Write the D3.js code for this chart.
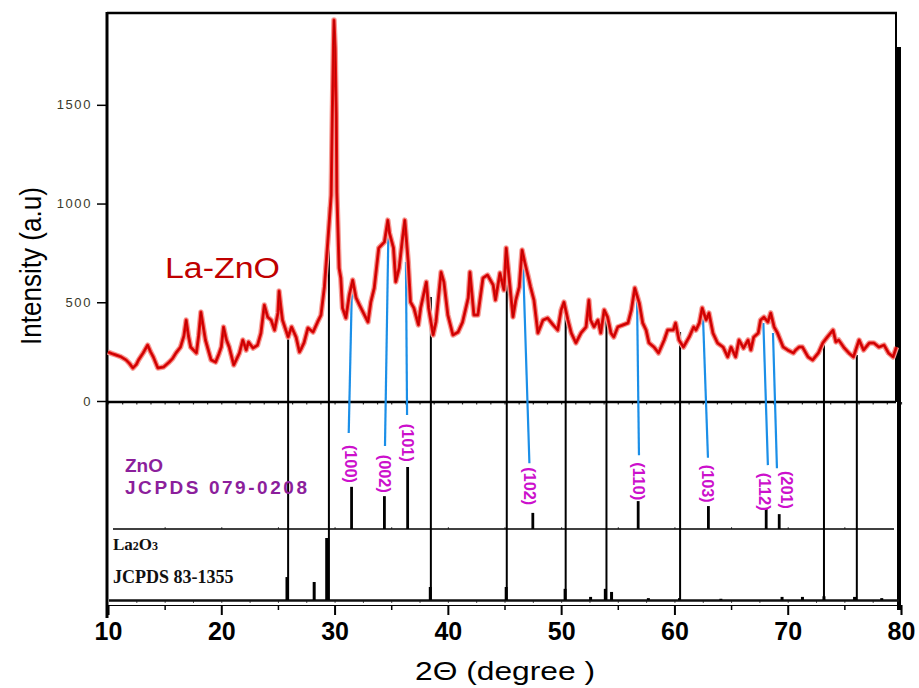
<!DOCTYPE html>
<html><head><meta charset="utf-8">
<script src="https://cdn.jsdelivr.net/npm/d3@7/dist/d3.min.js"></script>
<style>body{margin:0;background:#fff} svg{display:block}</style>
</head><body><svg id="c" width="919" height="688"></svg>
<script>
// ---- data ----
const twoTheta = [10.0,10.35,10.7,11.1,11.6,11.9,12.2,12.5,12.7,13.1,13.5,13.75,14.0,14.4,14.9,15.4,15.7,16.0,16.4,16.7,16.9,17.1,17.3,17.8,18.0,18.2,18.4,18.6,19.1,19.5,19.8,20.0,20.2,20.45,20.7,21.1,21.6,21.9,22.2,22.4,22.8,23.2,23.5,23.8,24.1,24.4,24.7,25.0,25.1,25.25,25.4,25.9,26.2,26.6,26.9,27.1,27.3,27.65,28.1,28.5,28.8,29.1,29.4,29.7,29.8,29.9,29.95,30.05,30.15,30.2,30.4,30.55,30.7,31.0,31.3,31.6,31.9,32.2,32.5,32.95,33.2,33.5,33.9,34.4,34.7,34.85,35.2,35.4,35.7,36.0,36.2,36.5,36.7,37.0,37.4,37.6,38.1,38.3,38.7,38.95,39.4,39.65,40.0,40.45,40.9,41.3,41.8,41.95,42.3,42.65,43.1,43.5,44.0,44.2,44.6,44.95,45.15,45.4,45.75,46.0,46.3,46.55,46.8,47.1,47.3,47.6,47.95,48.4,48.8,49.3,49.7,50.0,50.25,50.6,50.9,51.3,51.75,52.2,52.45,52.6,52.9,53.25,53.5,53.8,54.1,54.4,54.65,55.0,55.45,55.9,56.2,56.5,56.9,57.2,57.5,57.75,58.2,58.6,59.1,59.4,59.9,60.1,60.4,60.8,61.3,61.7,61.9,62.2,62.45,62.8,63.05,63.4,63.8,64.3,64.7,65.0,65.4,65.7,66.1,66.5,66.75,67.0,67.4,67.6,67.9,68.25,68.5,68.8,69.1,69.6,70.0,70.5,70.7,71.0,71.3,71.8,72.2,72.7,73.1,73.5,74.0,74.25,74.5,75.0,75.4,75.8,76.3,76.7,77.2,77.6,78.05,78.5,78.9,79.3,79.6];
const intensity = [248,240,233,225,208,190,167,185,208,243,283,250,223,167,172,197,215,243,273,330,410,330,273,243,330,451,380,309,208,197,240,273,375,310,273,182,243,309,258,299,268,283,344,486,425,410,359,446,557,480,410,324,375,324,248,270,294,370,349,400,435,577,805,1043,1448,1800,1929,1787,1448,1058,673,623,471,420,537,613,522,486,451,400,501,572,775,805,916,850,775,603,673,825,916,704,501,471,385,471,603,471,334,400,653,603,435,334,349,400,522,653,435,435,623,638,587,511,648,562,775,628,425,511,577,765,700,628,577,511,344,410,420,385,359,461,501,410,344,294,344,375,511,410,375,410,344,461,425,344,324,375,385,395,461,572,496,395,359,294,273,243,309,359,359,395,309,273,324,375,359,395,471,410,446,344,294,273,223,273,223,309,268,309,258,324,344,410,425,400,446,375,344,273,258,243,258,273,273,223,208,243,294,324,359,299,309,268,243,223,309,258,294,294,273,283,243,223,273];

const xTickValues = [10,20,30,40,50,60,70,80];
const yTickValues = [0,500,1000,1500];

// La2O3 reference lines reaching up into the pattern
const laLineTheta = [25.9,29.5,38.5,45.2,50.4,54.0,60.5,73.2,76.1];
const laLineTop = [350,982,527,648,446,435,349,294,233];
// La2O3 JCPDS 83-1355 sticks (relative intensity)
const laStickTheta = [25.8,28.2,29.35,38.45,45.15,50.35,52.6,53.9,54.45,57.7,60.45,64.1,69.5,71.3,73.2,75.9,78.3];
const laStickRel = [37,29,100,21,21,18,5,18,13,3,3,2,5,5,6,5,3];

// ZnO JCPDS 079-0208 sticks
const znoHkl = ["(100)","(002)","(101)","(102)","(110)","(103)","(112)","(201)"];
const znoTheta = [31.5,34.4,36.45,47.5,56.8,63.0,68.1,69.25];
const znoRel = [68,53,100,26,45,37,34,24];
const labelTheta = [31.4,34.45,36.48,47.25,56.87,62.96,67.95,69.9];
const labelLevel = [105,89,139,69,77,73,60,63];
// blue guide lines: top at pattern peak, bottom above hkl label
const blueTopTheta = [31.54,34.75,36.3,46.6,56.7,62.5,67.85,68.7];
const blueTopI = [603,851,704,765,527,461,395,344];
const blueBotTheta = [31.25,34.45,36.4,47.2,56.87,62.96,68.25,69.05];
const blueBotLevel = [155,134,184,106,119,115,103,98];

// ---- drawing ----
const svg = d3.select("#c");
const SANS = "'Liberation Sans', Arial, sans-serif";
const SERIF = "'Liberation Serif', 'Times New Roman', serif";

const x = d3.scaleLinear().domain([10,80]).range([108,901]);
const yTop = d3.scaleLinear().domain([0,1965]).range([401,13]);
const yZn = d3.scaleLinear().domain([0,100]).range([529,467]);
const yLa = d3.scaleLinear().domain([0,100]).range([600,538]);

// frame of top panel
svg.append("line").attr("x1",107).attr("x2",897).attr("y1",13).attr("y2",13).attr("stroke","#000").attr("stroke-width",2.5);
svg.append("line").attr("x1",896).attr("x2",896).attr("y1",13).attr("y2",402).attr("stroke","#000").attr("stroke-width",2);
svg.append("line").attr("x1",899).attr("x2",899).attr("y1",47).attr("y2",610).attr("stroke","#000").attr("stroke-width",4);

// y axis
const yAxis = d3.axisLeft(yTop).tickValues(yTickValues).tickSize(10).tickPadding(5).tickFormat(d3.format("d"));
const gy = svg.append("g").attr("transform","translate(107,0)").call(yAxis);
gy.select(".domain").remove();
gy.selectAll(".tick line").attr("stroke","#000").attr("stroke-width",1.5);
gy.selectAll(".tick text").attr("font-family",SANS).attr("font-size",13).attr("letter-spacing",1.6).attr("fill","#3a3a2a");
svg.append("line").attr("x1",107).attr("x2",107).attr("y1",12).attr("y2",618).attr("stroke","#000").attr("stroke-width",3);

// zero line with small ticks
const zeroAxis = d3.axisBottom(x).tickValues(d3.range(10,80.01,1.25)).tickSize(2.5).tickFormat("");
const gz = svg.append("g").attr("transform","translate(0,402)").call(zeroAxis);
gz.select(".domain").remove();
gz.selectAll(".tick line").attr("stroke","#333").attr("stroke-width",1.2);
svg.append("line").attr("x1",107).attr("x2",896).attr("y1",402).attr("y2",402).attr("stroke","#000").attr("stroke-width",2.5);

// ZnO baseline
const znAxis = d3.axisTop(x).tickValues(d3.range(15,80,5)).tickSize(2).tickFormat("");
const gzn = svg.append("g").attr("transform","translate(0,529)").call(znAxis);
gzn.select(".domain").remove();
gzn.selectAll(".tick line").attr("stroke","#555");
svg.append("line").attr("x1",113).attr("x2",894).attr("y1",529).attr("y2",529).attr("stroke","#000").attr("stroke-width",1.6);

// La2O3 baseline
const laAxis = d3.axisBottom(x).tickValues(d3.range(12.5,80,2.5)).tickSize(2).tickFormat("");
const gla = svg.append("g").attr("transform","translate(0,601)").call(laAxis);
gla.select(".domain").remove();
gla.selectAll(".tick line").attr("stroke","#555");
svg.append("line").attr("x1",109).attr("x2",899).attr("y1",600.5).attr("y2",600.5).attr("stroke","#111").attr("stroke-width",2.5);

// x axis
const xMinor = d3.axisBottom(x).tickValues(d3.range(15,80,10)).tickSize(5).tickFormat("");
const gxm = svg.append("g").attr("transform","translate(0,605)").call(xMinor);
gxm.select(".domain").remove();
gxm.selectAll(".tick line").attr("stroke","#000").attr("stroke-width",1.5);
const xAxis = d3.axisBottom(x).tickValues(xTickValues).tickSize(10).tickPadding(7).tickFormat(d3.format("d"));
const gx = svg.append("g").attr("transform","translate(0,605)").call(xAxis);
gx.select(".domain").attr("stroke","#000").attr("stroke-width",1.2);
gx.selectAll(".tick line").attr("stroke","#000").attr("stroke-width",2);
gx.selectAll(".tick text").attr("font-family",SANS).attr("font-size",25).attr("font-weight","bold").attr("fill","#000");

// La2O3 long reference lines
svg.append("g").selectAll("line").data(laLineTheta).join("line")
  .attr("x1",d=>x(d)).attr("x2",d=>x(d))
  .attr("y1",yLa(0)).attr("y2",(d,i)=>yTop(laLineTop[i]))
  .attr("stroke","#000").attr("stroke-width",2);

// La2O3 sticks
svg.append("g").selectAll("line").data(laStickTheta).join("line")
  .attr("x1",d=>x(d)).attr("x2",d=>x(d))
  .attr("y1",yLa(0)).attr("y2",(d,i)=>yLa(laStickRel[i]))
  .attr("stroke","#000").attr("stroke-width",(d,i)=>laStickRel[i]>50?4:3);

// ZnO sticks
svg.append("g").selectAll("line").data(znoTheta).join("line")
  .attr("x1",d=>x(d)).attr("x2",d=>x(d))
  .attr("y1",yZn(0)).attr("y2",(d,i)=>yZn(znoRel[i]))
  .attr("stroke","#000").attr("stroke-width",2.8);

// blue guide lines
svg.append("g").selectAll("line").data(blueTopTheta).join("line")
  .attr("x1",d=>x(d)).attr("y1",(d,i)=>yTop(blueTopI[i]))
  .attr("x2",(d,i)=>x(blueBotTheta[i])).attr("y2",(d,i)=>yZn(blueBotLevel[i]))
  .attr("stroke","#1b8fe8").attr("stroke-width",2.2);

// XRD pattern
const pts = twoTheta.map((t,i)=>[t,intensity[i]]);
const line = d3.line().x(d=>x(d[0])).y(d=>yTop(d[1]));
svg.append("path").datum(pts).attr("d",line).attr("fill","none").attr("stroke","#f4a09a").attr("stroke-width",5.5).attr("stroke-linejoin","round");
svg.append("path").datum(pts).attr("d",line).attr("fill","none").attr("stroke","#e80c0c").attr("stroke-width",3).attr("stroke-linejoin","round");
svg.append("path").datum(pts).attr("d",line).attr("fill","none").attr("stroke","#b00000").attr("stroke-width",0.9).attr("stroke-linejoin","round");

// hkl labels
svg.append("g").selectAll("text").data(znoHkl).join("text")
  .attr("transform",(d,i)=>`translate(${x(labelTheta[i])},${yZn(labelLevel[i])}) rotate(90)`)
  .attr("text-anchor","middle").attr("dy","0.35em")
  .attr("font-family",SANS).attr("font-weight","bold").attr("font-size",16)
  .attr("textLength",38).attr("lengthAdjust","spacingAndGlyphs")
  .attr("fill","#cc10cc").text(d=>d);

// texts
svg.append("text").attr("x",165).attr("y",278).attr("font-family",SANS).attr("font-size",29)
  .attr("textLength",115).attr("lengthAdjust","spacingAndGlyphs").attr("fill","#c00000").text("La-ZnO");
svg.append("text").attr("x",125).attr("y",472).attr("font-family",SANS).attr("font-size",19).attr("font-weight","bold")
  .attr("fill","#8c1f9c").text("ZnO");
svg.append("text").attr("x",125).attr("y",494).attr("font-family",SANS).attr("font-size",19).attr("font-weight","bold")
  .attr("textLength",182).attr("lengthAdjust","spacing").attr("fill","#8c1f9c").text("JCPDS 079-0208");
const la = svg.append("text").attr("x",113).attr("y",550).attr("font-family",SERIF).attr("font-size",17).attr("font-weight","bold").attr("fill","#111");
la.append("tspan").text("La");
la.append("tspan").attr("font-size",12).text("2");
la.append("tspan").text("O");
la.append("tspan").attr("font-size",12).text("3");
svg.append("text").attr("x",113).attr("y",583).attr("font-family",SERIF).attr("font-size",18).attr("font-weight","bold")
  .attr("fill","#111").text("JCPDS 83-1355");

svg.append("text").attr("transform","translate(41,266) rotate(-90)").attr("text-anchor","middle")
  .attr("font-family",SANS).attr("font-size",30).attr("textLength",158).attr("lengthAdjust","spacingAndGlyphs")
  .attr("fill","#000").text("Intensity (a.u)");
svg.append("text").attr("x",505).attr("y",680).attr("text-anchor","middle").attr("font-family",SANS).attr("font-size",25)
  .attr("textLength",180).attr("lengthAdjust","spacingAndGlyphs").attr("fill","#000").text("2Θ (degree  )");
</script></body></html>
